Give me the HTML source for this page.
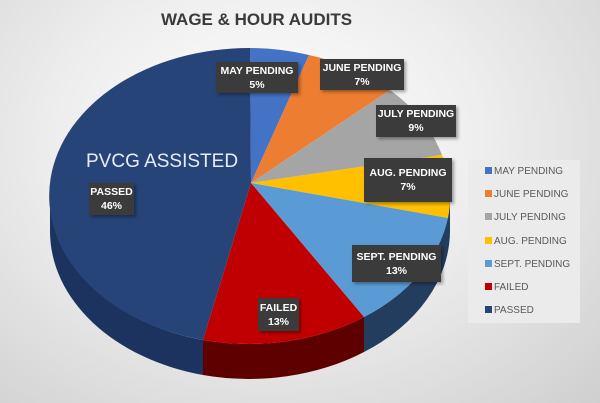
<!DOCTYPE html>
<html><head><meta charset="utf-8"><style>
html,body{margin:0;padding:0;}
body{width:600px;height:403px;overflow:hidden;font-family:"Liberation Sans",sans-serif;background:radial-gradient(ellipse at 45% 35%,#ffffff 0%,#eeeeee 45%,#cfcfcf 100%);position:relative;}
.lb{position:absolute;background:#3b3b3b;color:#fff;font-weight:bold;font-size:10.5px;text-align:center;line-height:14px;box-shadow:2px 2px 3px rgba(0,0,0,.35);display:flex;flex-direction:column;justify-content:center;white-space:nowrap;}
.lg{position:absolute;left:468px;top:160px;width:112px;height:163px;background:#ebebeb;}
.li{position:absolute;left:17px;font-size:10px;color:#595959;white-space:nowrap;line-height:12px;}
.li i{display:inline-block;width:7px;height:7px;margin-right:2px;vertical-align:0px;}
</style></head><body>
<div style="position:absolute;left:0;width:513px;top:10px;text-align:center;font-weight:bold;font-size:17px;color:#3a3a3a;">WAGE &amp; HOUR AUDITS</div>
<svg width="600" height="403" style="position:absolute;left:0;top:0">
<g>
<path d="M50,196 L50,231 A200,148 0 0 0 203,375 L203,340 A200,148 0 0 1 50,196Z" fill="#1c3360"/>
<path d="M203,340 L203,375 A200,148 0 0 0 364,352 L364,317 A200,148 0 0 1 203,340Z" fill="#5e0000"/>
<path d="M364,317 L364,352 A200,148 0 0 0 450,231 L450,196 A200,148 0 0 1 364,317Z" fill="#233d5e"/>
</g>
<path d="M251,183 L250,48 A200,148 0 0 1 309,55Z" fill="#4472c4"/>
<path d="M251,183 L309,55 A200,148 0 0 1 390,90Z" fill="#ed7d31"/>
<path d="M251,183 L390,90 A200,148 0 0 1 442,155Z" fill="#a5a5a5"/>
<path d="M251,183 L442,155 A200,148 0 0 1 448,218Z" fill="#ffc000"/>
<path d="M251,183 L448,218 A200,148 0 0 1 364,317Z" fill="#5b9bd5"/>
<path d="M251,183 L364,317 A200,148 0 0 1 203,340Z" fill="#c00000"/>
<path d="M251,183 L203,340 A200,148 0 0 1 250,48Z" fill="#264478"/>
</svg>
<div style="position:absolute;left:86px;top:151px;font-size:19px;color:#e8ecf4;white-space:nowrap;">PVCG ASSISTED</div>
<div class="lb" style="left:216px;top:62px;width:82px;height:31px">MAY PENDING<br>5%</div>
<div class="lb" style="left:320px;top:59px;width:84px;height:31px">JUNE PENDING<br>7%</div>
<div class="lb" style="left:376px;top:105px;width:80px;height:32px">JULY PENDING<br>9%</div>
<div class="lb" style="left:364px;top:158px;width:88px;height:44px">AUG. PENDING<br>7%</div>
<div class="lb" style="left:352px;top:245px;width:89px;height:37px">SEPT. PENDING<br>13%</div>
<div class="lb" style="left:258px;top:298px;width:41px;height:33px">FAILED<br>13%</div>
<div class="lb" style="left:89px;top:183px;width:45px;height:32px">PASSED<br>46%</div>
<div class="lg">
<div class="li" style="top:6px"><i style="background:#4472c4"></i>MAY PENDING</div>
<div class="li" style="top:29px"><i style="background:#ed7d31"></i>JUNE PENDING</div>
<div class="li" style="top:52px"><i style="background:#a5a5a5"></i>JULY PENDING</div>
<div class="li" style="top:76px"><i style="background:#ffc000"></i>AUG. PENDING</div>
<div class="li" style="top:99px"><i style="background:#5b9bd5"></i>SEPT. PENDING</div>
<div class="li" style="top:122px"><i style="background:#c00000"></i>FAILED</div>
<div class="li" style="top:145px"><i style="background:#264478"></i>PASSED</div>
</div>
</body></html>
